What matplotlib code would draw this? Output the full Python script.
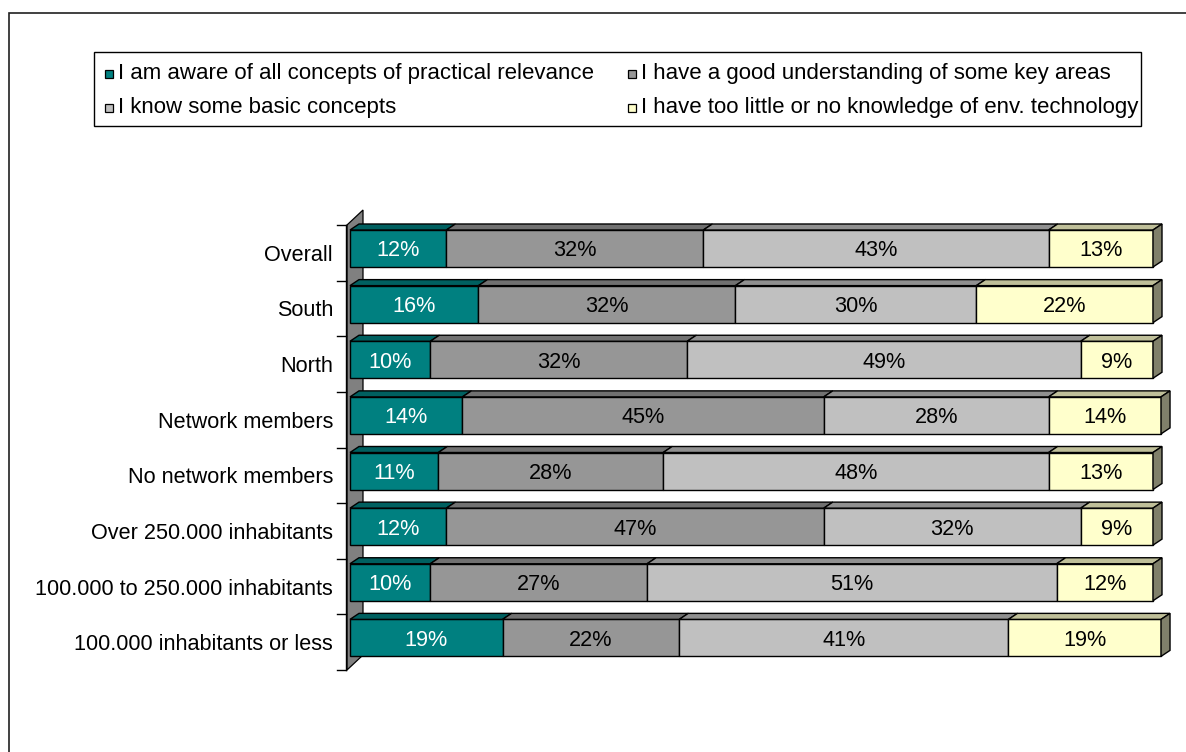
import matplotlib
matplotlib.use("Agg")
import matplotlib.pyplot as plt
from matplotlib.patches import Polygon, Rectangle
from matplotlib.lines import Line2D

plt.rcParams['font.family'] = ['Liberation Sans', 'DejaVu Sans']

# ---- data -------------------------------------------------------------
categories = [
    "Overall",
    "South",
    "North",
    "Network members",
    "No network members",
    "Over 250.000 inhabitants",
    "100.000 to 250.000 inhabitants",
    "100.000 inhabitants or less",
]
aware = [12, 16, 10, 14, 11, 12, 10, 19]
good_understanding = [32, 32, 32, 45, 28, 47, 27, 22]
basic_concepts = [43, 30, 49, 28, 48, 32, 51, 41]
too_little = [13, 22, 9, 14, 13, 9, 12, 19]

series_names = [
    "I am aware of all concepts of practical relevance",
    "I have a good understanding of some key areas",
    "I know some basic concepts",
    "I have too little or no knowledge of env. technology",
]

# ---- styling ----------------------------------------------------------
front_colors = ["#008080", "#969696", "#C0C0C0", "#FFFFCC"]
top_colors = ["#006060", "#717171", "#909090", "#BFBF99"]
side_colors = ["#004040", "#4B4B4B", "#606060", "#80806A"]
text_colors = ["white", "black", "black", "black"]
label_size = 15.6
legend_size = 16.0

W, H = 1186, 752
fig = plt.figure(figsize=(W / 100, H / 100), dpi=100)
fig.patch.set_facecolor("white")


def fx(px):
    return px / W


def fy(py):
    return 1 - py / H


# outer frame
fig.patches.append(Rectangle((fx(9), fy(H + 20)), fx(W + 20) - fx(9), fy(13) - fy(H + 20),
                             transform=fig.transFigure, fill=False, edgecolor="#202020",
                             linewidth=1.2))

# ---- plot area --------------------------------------------------------
ax = fig.add_axes([fx(350), fy(670), fx(803), fy(225) - fy(670)])
ax.set_xlim(0, 100)
ax.set_ylim(len(categories) - 0.5, -0.5)
ax.axis("off")

px_x = 100 / 803          # data units per pixel (x)
px_y = len(categories) / 445  # data units per pixel (y)

# back wall
wall_x = -3 * px_x
wall_dx, wall_dy = 16 * px_x, 15 * px_y
y_lo, y_hi = -0.5, len(categories) - 0.5
ax.add_patch(Polygon([(wall_x, y_lo), (wall_x, y_hi), (wall_x + wall_dx, y_hi - wall_dy),
                      (wall_x + wall_dx, y_lo - wall_dy)], closed=True,
                     facecolor="#808080", edgecolor="black", linewidth=0.9,
                     clip_on=False, zorder=1))

# category axis with ticks
axis_x = -4 * px_x
ax.add_line(Line2D([axis_x, axis_x], [y_lo, y_hi], color="black", linewidth=1.0,
                   clip_on=False, zorder=2))
for k in range(len(categories) + 1):
    yb = -0.5 + k
    ax.add_line(Line2D([axis_x - 9 * px_x, axis_x], [yb, yb], color="black",
                       linewidth=1.0, clip_on=False, zorder=2))

# bars
bar_h = 37 * px_y
bar_off = 5 * px_y
dx, dy = 9 * px_x, 6 * px_y
series = [aware, good_understanding, basic_concepts, too_little]
n = len(categories)
lefts = [0.0] * n
for s, vals in enumerate(series):
    centers = [i - 0.5 + bar_off + bar_h / 2 for i in range(n)]
    ax.barh(centers, vals, left=lefts, height=bar_h, color=front_colors[s],
            edgecolor="black", linewidth=1.0, zorder=3, clip_on=False)
    for i in range(n):
        x0 = lefts[i]
        x1 = x0 + vals[i]
        top = centers[i] - bar_h / 2
        bot = centers[i] + bar_h / 2
        ax.add_patch(Polygon([(x0, top), (x1, top), (x1 + dx, top - dy), (x0 + dx, top - dy)],
                             closed=True, facecolor=top_colors[s], edgecolor="black",
                             linewidth=1.0, zorder=3, clip_on=False))
        if s == len(series) - 1:
            ax.add_patch(Polygon([(x1, top), (x1 + dx, top - dy), (x1 + dx, bot - dy), (x1, bot)],
                                 closed=True, facecolor=side_colors[s], edgecolor="black",
                                 linewidth=1.0, zorder=3, clip_on=False))
        ax.text((x0 + x1) / 2, centers[i], f"{vals[i]}%", ha="center", va="center_baseline",
                fontsize=label_size, color=text_colors[s], zorder=4)
    lefts = [lefts[i] + vals[i] for i in range(n)]

# category labels
for i, name in enumerate(categories):
    ax.text(-17 * px_x, i, name, ha="right", va="center_baseline", fontsize=label_size,
            color="black")

# ---- legend -----------------------------------------------------------
fig.patches.append(Rectangle((fx(94), fy(126)), fx(1141) - fx(94), fy(52) - fy(126),
                             transform=fig.transFigure, fill=False, edgecolor="black",
                             linewidth=1.0))
legend_pos = [(105, 74), (628, 74), (105, 108), (628, 108)]
legend_order = [0, 1, 2, 3]
for (mx, my), s in zip(legend_pos, legend_order):
    fig.patches.append(Rectangle((fx(mx), fy(my + 4)), fx(8), fy(0) - fy(8),
                                 transform=fig.transFigure, facecolor=front_colors[s],
                                 edgecolor="black", linewidth=0.9))
    fig.text(fx(mx + 13), fy(my - 3), series_names[s], ha="left", va="center_baseline",
             fontsize=legend_size, color="black")

fig.savefig("out.png", dpi=100)
